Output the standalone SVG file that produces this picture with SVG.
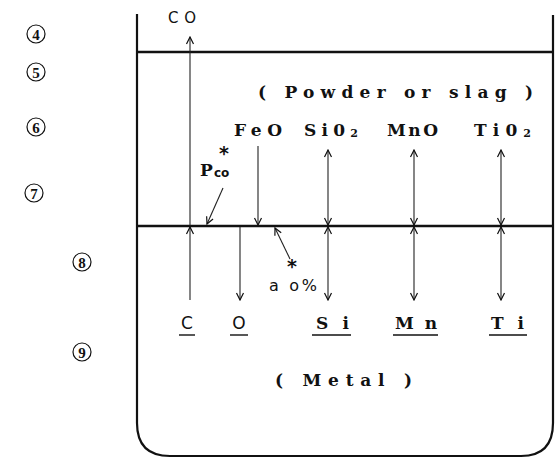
<svg xmlns="http://www.w3.org/2000/svg" width="557" height="459" viewBox="0 0 557 459">
<style>
.wall{fill:none;stroke:#111;stroke-width:2.2;stroke-linejoin:round}
.iface{stroke:#111;stroke-width:2.4}
.ln{stroke:#222;stroke-width:1.1;fill:none}
.serif{font-family:"DejaVu Serif","Liberation Serif",serif;font-weight:bold;fill:#111}
.sans{font-family:"DejaVu Sans","Liberation Sans",sans-serif;fill:#111}
.num{font-family:"Liberation Serif","DejaVu Serif",serif;font-size:15px;font-weight:bold;text-anchor:middle;fill:#111}
.circ{fill:none;stroke:#111;stroke-width:1.2}
.ul{stroke:#111;stroke-width:1.4}
</style>
<defs>
<marker id="ah" viewBox="-9 -5 10 10" markerWidth="10" markerHeight="10" refX="0" refY="0" orient="auto-start-reverse" markerUnits="userSpaceOnUse">
<path d="M-7,-3.5 L0,0 L-7,3.5" fill="none" stroke="#111" stroke-width="1.2"/>
</marker>
</defs>

<g id="vessel">
<path class="wall" d="M137,14 V423 Q137,456 170,456 H521 Q553,456 553,423 V15"/>
<line class="iface" x1="137" y1="52" x2="553" y2="52"/>
<line class="iface" x1="137" y1="226" x2="553" y2="226"/>
</g>

<g id="zone-labels">
<g id="n4"><circle class="circ" cx="36" cy="34" r="9"/><text class="num" x="36" y="39.5">4</text></g>
<g id="n5"><circle class="circ" cx="36" cy="72" r="9"/><text class="num" x="36" y="77.5">5</text></g>
<g id="n6"><circle class="circ" cx="36" cy="127" r="9"/><text class="num" x="36" y="132.5">6</text></g>
<g id="n7"><circle class="circ" cx="34" cy="193" r="9"/><text class="num" x="34" y="198.5">7</text></g>
<g id="n8"><circle class="circ" cx="82" cy="262" r="9"/><text class="num" x="82" y="267.5">8</text></g>
<g id="n9"><circle class="circ" cx="82" cy="352" r="9"/><text class="num" x="82" y="357.5">9</text></g>
</g>

<g id="slag-label"><text class="serif" x="258" y="98" font-size="17" textLength="275" lengthAdjust="spacing">( Powder or slag )</text></g>
<g id="metal-label"><text class="serif" x="275" y="386" font-size="17" textLength="137" lengthAdjust="spacing">( Metal )</text></g>

<g id="CO"><text class="sans" x="168" y="23" font-size="15" textLength="28" lengthAdjust="spacing">CO</text></g>
<g id="FeO"><text class="serif" x="234" y="136" font-size="17" textLength="48" lengthAdjust="spacing">FeO</text></g>
<g id="SiO2"><text class="serif" x="304" y="136" font-size="17" textLength="54" lengthAdjust="spacing">Si0<tspan font-size="11" dy="1">2</tspan></text></g>
<g id="MnO"><text class="serif" x="387" y="136" font-size="17" textLength="51" lengthAdjust="spacing">MnO</text></g>
<g id="TiO2"><text class="serif" x="474" y="136" font-size="17" textLength="57" lengthAdjust="spacing">Ti0<tspan font-size="11" dy="1">2</tspan></text></g>

<g id="Pco">
<text class="sans" x="224" y="160" font-size="19" font-weight="bold" text-anchor="middle">*</text>
<text class="serif" x="200" y="176" font-size="17" font-weight="normal">P</text>
<text class="sans" x="214" y="177" font-size="12" font-weight="bold">co</text>
</g>
<g id="ao">
<text class="sans" x="292" y="273" font-size="19" font-weight="bold" text-anchor="middle">*</text>
<text class="sans" x="269" y="291" font-size="16" textLength="48" lengthAdjust="spacing">a o%</text>
</g>

<g id="metal-species">
<g id="C"><text class="sans" x="187" y="329" font-size="17" text-anchor="middle">C</text><line class="ul" x1="179" y1="335" x2="195" y2="335"/></g>
<g id="O"><text class="sans" x="239" y="329" font-size="17" text-anchor="middle">O</text><line class="ul" x1="230" y1="335" x2="248" y2="335"/></g>
<g id="Si"><text class="serif" x="316" y="329" font-size="17" textLength="33" lengthAdjust="spacing">Si</text><line class="ul" x1="312" y1="335" x2="351" y2="335"/></g>
<g id="Mn"><text class="serif" x="395" y="329" font-size="17" textLength="42" lengthAdjust="spacing">Mn</text><line class="ul" x1="393" y1="335" x2="438" y2="335"/></g>
<g id="Ti"><text class="serif" x="491" y="329" font-size="17" textLength="33" lengthAdjust="spacing">Ti</text><line class="ul" x1="489" y1="335" x2="527" y2="335"/></g>
</g>

<g id="connectors">
<line class="ln" x1="190" y1="300" x2="190" y2="227" marker-end="url(#ah)"/>
<line class="ln" x1="190" y1="226" x2="190" y2="37" marker-end="url(#ah)"/>
<line class="ln" x1="258" y1="146" x2="258" y2="225" marker-end="url(#ah)"/>
<line class="ln" x1="240" y1="227" x2="240" y2="300" marker-end="url(#ah)"/>
<line class="ln" x1="328" y1="150" x2="328" y2="225" marker-start="url(#ah)" marker-end="url(#ah)"/>
<line class="ln" x1="328" y1="227" x2="328" y2="300" marker-start="url(#ah)" marker-end="url(#ah)"/>
<line class="ln" x1="414" y1="150" x2="414" y2="225" marker-start="url(#ah)" marker-end="url(#ah)"/>
<line class="ln" x1="414" y1="227" x2="414" y2="300" marker-start="url(#ah)" marker-end="url(#ah)"/>
<line class="ln" x1="501" y1="150" x2="501" y2="225" marker-start="url(#ah)" marker-end="url(#ah)"/>
<line class="ln" x1="501" y1="227" x2="501" y2="300" marker-start="url(#ah)" marker-end="url(#ah)"/>
<line class="ln" x1="223" y1="188" x2="207" y2="224" marker-end="url(#ah)"/>
<line class="ln" x1="290" y1="259" x2="275" y2="228" marker-end="url(#ah)"/>
</g>
</svg>
